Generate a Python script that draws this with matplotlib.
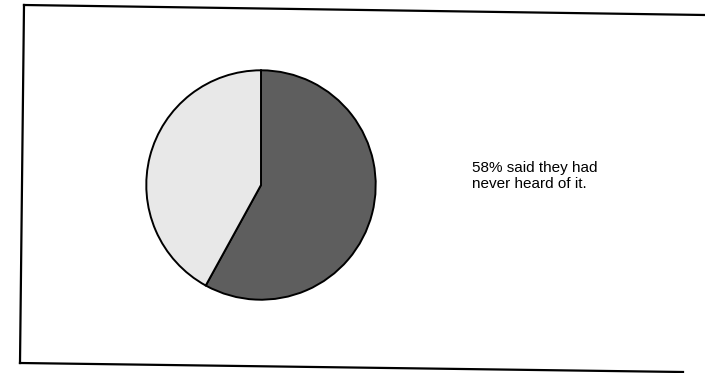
import matplotlib
matplotlib.use("Agg")
import matplotlib.pyplot as plt
from matplotlib.lines import Line2D

# survey answers: heard of it vs. never heard of it
labels = ["never heard of it", "had heard of it"]
shares = [58, 42]
colors = ["#5e5e5e", "#e8e8e8"]
note = "58% said they had\nnever heard of it."

W, H = 705, 373
fig = plt.figure(figsize=(W / 100, H / 100), dpi=100)

def px(x, y):
    # pixel coords (origin top-left) -> figure fraction
    return x / W, 1 - y / H

# frame around the panel (scanned page is slightly skewed)
frame = [((24, 5), (705, 15)), ((24, 5), (20, 363)), ((20, 363), (683, 372))]
for (x0, y0), (x1, y1) in frame:
    a, b = px(x0, y0)
    c, d = px(x1, y1)
    fig.add_artist(Line2D([a, c], [b, d], transform=fig.transFigure,
                          color="black", lw=1.6))

# pie centred at (261, 185), radius 117 px
cx, cy, r = 261, 185, 117
ax = fig.add_axes([(cx - r) / W, (H - cy - r) / H, 2 * r / W, 2 * r / H])
ax.pie(shares, colors=colors, startangle=90, counterclock=False,
       wedgeprops=dict(edgecolor="black", linewidth=1.4))
ax.set_xlim(-1.02, 1.02)
ax.set_ylim(-1.02, 1.02)
ax.set_aspect("equal")
ax.axis("off")

tx, ty = px(472, 176)
fig.text(tx, ty, note, ha="left", va="center", fontsize=11,
         family="Liberation Sans", linespacing=1.2)

fig.savefig("out.png", dpi=100)
